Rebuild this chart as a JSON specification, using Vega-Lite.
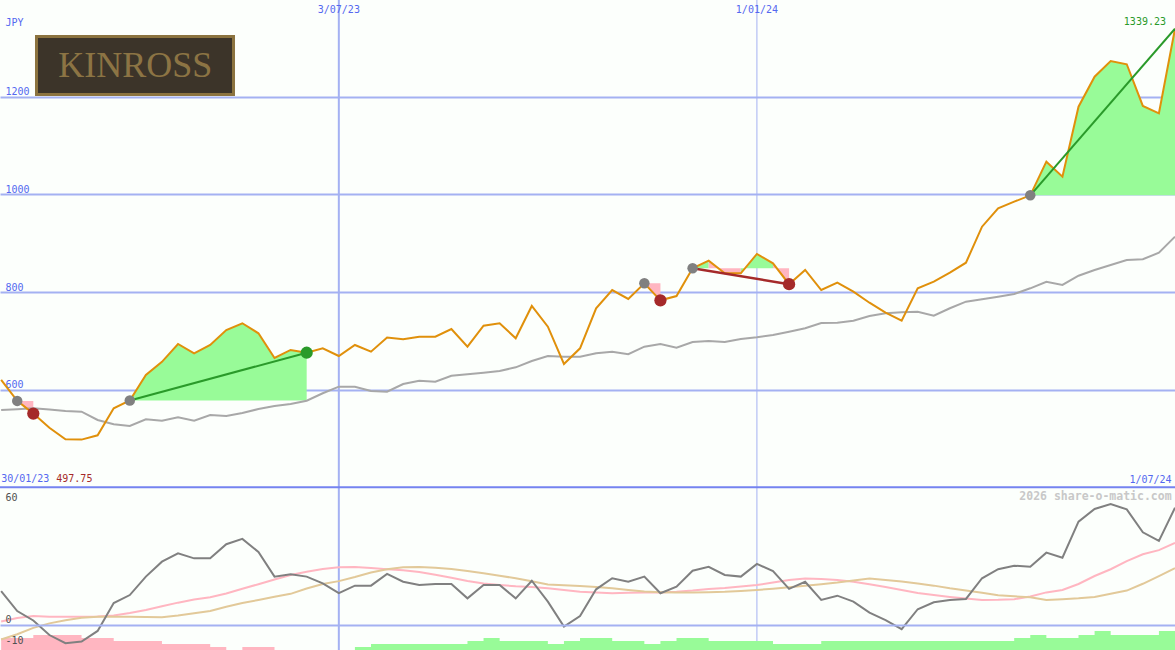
{
  "$schema": "https://vega.github.io/schema/vega-lite/v6.json",
  "width": 1175,
  "height": 650,
  "autosize": {"type": "none"},
  "padding": 0,
  "background": "#fcfffc",
  "config": {"view": {"stroke": null}, "text": {"font": "DejaVu Sans Mono", "fontSize": 10}},
  "datasets": {
    "w": [
      {"date": "2023-02-06T00:00:00", "price": 620, "ma": 558.4, "osc": 16.5, "fast": 1.7, "slow": -7.1, "neg": 1.2, "pos": 0},
      {"date": "2023-02-13T00:00:00", "price": 577, "ma": 560, "osc": 6.8, "fast": 3.4, "slow": -4.5, "neg": 1.2, "pos": 0},
      {"date": "2023-02-20T00:00:00", "price": 551, "ma": 561.9, "osc": 2.2, "fast": 4.4, "slow": -1.4, "neg": 1.5, "pos": 0},
      {"date": "2023-02-27T00:00:00", "price": 522, "ma": 559.4, "osc": -4.9, "fast": 4, "slow": 0.8, "neg": 1.5, "pos": 0},
      {"date": "2023-03-06T00:00:00", "price": 498.5, "ma": 556.3, "osc": -8.9, "fast": 4, "slow": 2.3, "neg": 1.5, "pos": 0},
      {"date": "2023-03-13T00:00:00", "price": 497.75, "ma": 554.9, "osc": -8.1, "fast": 4, "slow": 3.5, "neg": 1.2, "pos": 0},
      {"date": "2023-03-20T00:00:00", "price": 506.6, "ma": 537.9, "osc": -2.9, "fast": 4.2, "slow": 4, "neg": 1.2, "pos": 0},
      {"date": "2023-03-27T00:00:00", "price": 561.8, "ma": 529.1, "osc": 10.7, "fast": 4.6, "slow": 4, "neg": 0.9, "pos": 0},
      {"date": "2023-04-03T00:00:00", "price": 578, "ma": 525.6, "osc": 14.6, "fast": 5.8, "slow": 4, "neg": 0.9, "pos": 0},
      {"date": "2023-04-10T00:00:00", "price": 630, "ma": 539.3, "osc": 23.6, "fast": 7.3, "slow": 3.9, "neg": 0.9, "pos": 0},
      {"date": "2023-04-17T00:00:00", "price": 657, "ma": 536.5, "osc": 30.9, "fast": 9.1, "slow": 3.8, "neg": 0.6, "pos": 0},
      {"date": "2023-04-24T00:00:00", "price": 693.6, "ma": 543.4, "osc": 35, "fast": 10.9, "slow": 4.6, "neg": 0.6, "pos": 0},
      {"date": "2023-05-01T00:00:00", "price": 674.5, "ma": 536.5, "osc": 32.5, "fast": 12.4, "slow": 5.7, "neg": 0.6, "pos": 0},
      {"date": "2023-05-08T00:00:00", "price": 691.5, "ma": 548.1, "osc": 32.5, "fast": 13.5, "slow": 6.8, "neg": 0.3, "pos": 0},
      {"date": "2023-05-15T00:00:00", "price": 722.2, "ma": 546.1, "osc": 39.4, "fast": 15.4, "slow": 8.9, "neg": 0, "pos": 0},
      {"date": "2023-05-22T00:00:00", "price": 736, "ma": 552.2, "osc": 42, "fast": 17.7, "slow": 10.7, "neg": 0.3, "pos": 0},
      {"date": "2023-05-29T00:00:00", "price": 715.5, "ma": 560.4, "osc": 35.6, "fast": 19.9, "slow": 12.2, "neg": 0.3, "pos": 0},
      {"date": "2023-06-05T00:00:00", "price": 665, "ma": 566.6, "osc": 23.6, "fast": 22.2, "slow": 13.8, "neg": 0, "pos": 0},
      {"date": "2023-06-12T00:00:00", "price": 681.3, "ma": 570.7, "osc": 24.7, "fast": 24.4, "slow": 15.2, "neg": 0, "pos": 0},
      {"date": "2023-06-19T00:00:00", "price": 675.7, "ma": 577.4, "osc": 23.6, "fast": 26, "slow": 17.8, "neg": 0, "pos": 0},
      {"date": "2023-06-26T00:00:00", "price": 684.7, "ma": 592.6, "osc": 20.3, "fast": 27.3, "slow": 20, "neg": 0, "pos": 0},
      {"date": "2023-07-03T00:00:00", "price": 669, "ma": 606.1, "osc": 15.5, "fast": 28.2, "slow": 21.4, "neg": 0, "pos": 0},
      {"date": "2023-07-10T00:00:00", "price": 691.5, "ma": 606.1, "osc": 19.2, "fast": 28.3, "slow": 23.4, "neg": 0, "pos": 0.3},
      {"date": "2023-07-17T00:00:00", "price": 677.8, "ma": 597.3, "osc": 19.2, "fast": 27.8, "slow": 25.6, "neg": 0, "pos": 0.6},
      {"date": "2023-07-24T00:00:00", "price": 707, "ma": 595.9, "osc": 24.9, "fast": 27.2, "slow": 27.2, "neg": 0, "pos": 0.6},
      {"date": "2023-07-31T00:00:00", "price": 703.2, "ma": 611.6, "osc": 21.1, "fast": 26.7, "slow": 28.2, "neg": 0, "pos": 0.6},
      {"date": "2023-08-07T00:00:00", "price": 708.5, "ma": 618.4, "osc": 19.5, "fast": 25.9, "slow": 28.3, "neg": 0, "pos": 0.6},
      {"date": "2023-08-14T00:00:00", "price": 708.5, "ma": 616.4, "osc": 20, "fast": 24.5, "slow": 27.9, "neg": 0, "pos": 0.6},
      {"date": "2023-08-21T00:00:00", "price": 724.3, "ma": 628.6, "osc": 20, "fast": 23, "slow": 27.3, "neg": 0, "pos": 0.6},
      {"date": "2023-08-28T00:00:00", "price": 688, "ma": 631.5, "osc": 13, "fast": 21.5, "slow": 26.3, "neg": 0, "pos": 0.9},
      {"date": "2023-09-04T00:00:00", "price": 731, "ma": 634.8, "osc": 19.5, "fast": 20.2, "slow": 25.2, "neg": 0, "pos": 1.2},
      {"date": "2023-09-11T00:00:00", "price": 735.9, "ma": 638.3, "osc": 19.5, "fast": 19.5, "slow": 24, "neg": 0, "pos": 0.9},
      {"date": "2023-09-18T00:00:00", "price": 705.2, "ma": 645.8, "osc": 13, "fast": 18.9, "slow": 22.8, "neg": 0, "pos": 0.9},
      {"date": "2023-09-25T00:00:00", "price": 771.4, "ma": 658.7, "osc": 21.6, "fast": 18.5, "slow": 21.3, "neg": 0, "pos": 0.9},
      {"date": "2023-10-02T00:00:00", "price": 729, "ma": 669, "osc": 11.4, "fast": 17.9, "slow": 19.8, "neg": 0, "pos": 0.6},
      {"date": "2023-10-09T00:00:00", "price": 652.6, "ma": 667.5, "osc": -0.8, "fast": 17.1, "slow": 19.4, "neg": 0, "pos": 0.9},
      {"date": "2023-10-16T00:00:00", "price": 684.7, "ma": 667.5, "osc": 4.4, "fast": 16.2, "slow": 19, "neg": 0, "pos": 1.2},
      {"date": "2023-10-23T00:00:00", "price": 766.6, "ma": 674.5, "osc": 17.4, "fast": 15.9, "slow": 18.5, "neg": 0, "pos": 1.2},
      {"date": "2023-10-30T00:00:00", "price": 804.1, "ma": 677.8, "osc": 22.8, "fast": 15.5, "slow": 17.9, "neg": 0, "pos": 0.9},
      {"date": "2023-11-06T00:00:00", "price": 785.7, "ma": 672.5, "osc": 21.1, "fast": 15.7, "slow": 17.1, "neg": 0, "pos": 0.9},
      {"date": "2023-11-13T00:00:00", "price": 817.8, "ma": 688, "osc": 23.6, "fast": 15.9, "slow": 16.3, "neg": 0, "pos": 0.6},
      {"date": "2023-11-20T00:00:00", "price": 783, "ma": 693.5, "osc": 15.5, "fast": 15.9, "slow": 16, "neg": 0, "pos": 0.9},
      {"date": "2023-11-27T00:00:00", "price": 791.8, "ma": 686, "osc": 18.7, "fast": 16.2, "slow": 15.8, "neg": 0, "pos": 1.2},
      {"date": "2023-12-04T00:00:00", "price": 848.5, "ma": 697.6, "osc": 26.5, "fast": 16.8, "slow": 15.9, "neg": 0, "pos": 1.2},
      {"date": "2023-12-11T00:00:00", "price": 864.1, "ma": 699.7, "osc": 28.4, "fast": 17.6, "slow": 16, "neg": 0, "pos": 0.9},
      {"date": "2023-12-18T00:00:00", "price": 838.3, "ma": 697.6, "osc": 24.4, "fast": 18, "slow": 16.2, "neg": 0, "pos": 0.9},
      {"date": "2023-12-25T00:00:00", "price": 838.3, "ma": 703.8, "osc": 23.6, "fast": 18.8, "slow": 16.6, "neg": 0, "pos": 0.9},
      {"date": "2024-01-01T00:00:00", "price": 877.9, "ma": 707.3, "osc": 29.8, "fast": 19.5, "slow": 17.1, "neg": 0, "pos": 0.9},
      {"date": "2024-01-08T00:00:00", "price": 858.8, "ma": 712, "osc": 26.3, "fast": 20.7, "slow": 17.7, "neg": 0, "pos": 0.6},
      {"date": "2024-01-15T00:00:00", "price": 816, "ma": 718.7, "osc": 17.6, "fast": 22, "slow": 18.4, "neg": 0, "pos": 0.6},
      {"date": "2024-01-22T00:00:00", "price": 845.1, "ma": 725.7, "osc": 21.1, "fast": 22.7, "slow": 19.1, "neg": 0, "pos": 0.6},
      {"date": "2024-01-29T00:00:00", "price": 804.1, "ma": 736.5, "osc": 12.2, "fast": 22.4, "slow": 19.9, "neg": 0, "pos": 0.9},
      {"date": "2024-02-05T00:00:00", "price": 819.1, "ma": 737.2, "osc": 14.3, "fast": 22, "slow": 20.7, "neg": 0, "pos": 0.9},
      {"date": "2024-02-12T00:00:00", "price": 800.7, "ma": 741.3, "osc": 11.4, "fast": 21.1, "slow": 21.7, "neg": 0, "pos": 0.9},
      {"date": "2024-02-19T00:00:00", "price": 778.1, "ma": 750.9, "osc": 6, "fast": 19.9, "slow": 22.7, "neg": 0, "pos": 0.9},
      {"date": "2024-02-26T00:00:00", "price": 757.7, "ma": 756.4, "osc": 2.4, "fast": 18.5, "slow": 22, "neg": 0, "pos": 0.9},
      {"date": "2024-03-04T00:00:00", "price": 741.3, "ma": 758.5, "osc": -2, "fast": 17.1, "slow": 21.2, "neg": 0, "pos": 0.9},
      {"date": "2024-03-11T00:00:00", "price": 807.6, "ma": 759.7, "osc": 7.7, "fast": 15.6, "slow": 20.2, "neg": 0, "pos": 0.9},
      {"date": "2024-03-18T00:00:00", "price": 821.1, "ma": 751.5, "osc": 11.1, "fast": 14.6, "slow": 19.2, "neg": 0, "pos": 0.9},
      {"date": "2024-03-25T00:00:00", "price": 839.6, "ma": 766.7, "osc": 12.2, "fast": 13.7, "slow": 17.9, "neg": 0, "pos": 0.9},
      {"date": "2024-04-01T00:00:00", "price": 860, "ma": 780.2, "osc": 12.7, "fast": 12.9, "slow": 16.8, "neg": 0, "pos": 0.9},
      {"date": "2024-04-08T00:00:00", "price": 933.8, "ma": 785.1, "osc": 22.8, "fast": 12.2, "slow": 15.7, "neg": 0, "pos": 0.9},
      {"date": "2024-04-15T00:00:00", "price": 971.5, "ma": 790.4, "osc": 27.2, "fast": 12.3, "slow": 14.5, "neg": 0, "pos": 0.9},
      {"date": "2024-04-22T00:00:00", "price": 985, "ma": 795.9, "osc": 28.9, "fast": 12.6, "slow": 14, "neg": 0, "pos": 1.2},
      {"date": "2024-04-29T00:00:00", "price": 998, "ma": 807.6, "osc": 28.4, "fast": 13.9, "slow": 13.5, "neg": 0, "pos": 1.5},
      {"date": "2024-05-06T00:00:00", "price": 1066.9, "ma": 821.1, "osc": 35.3, "fast": 15.9, "slow": 12.2, "neg": 0, "pos": 1.2},
      {"date": "2024-05-13T00:00:00", "price": 1036.2, "ma": 814.4, "osc": 32.8, "fast": 17.1, "slow": 12.6, "neg": 0, "pos": 1.2},
      {"date": "2024-05-20T00:00:00", "price": 1179.5, "ma": 833.4, "osc": 50.4, "fast": 20, "slow": 13, "neg": 0, "pos": 1.5},
      {"date": "2024-05-27T00:00:00", "price": 1241, "ma": 845.1, "osc": 56.6, "fast": 23.9, "slow": 13.7, "neg": 0, "pos": 1.9},
      {"date": "2024-06-03T00:00:00", "price": 1273, "ma": 855.3, "osc": 59, "fast": 27.2, "slow": 15.2, "neg": 0, "pos": 1.5},
      {"date": "2024-06-10T00:00:00", "price": 1266.4, "ma": 865.6, "osc": 56.4, "fast": 31.2, "slow": 16.8, "neg": 0, "pos": 1.5},
      {"date": "2024-06-17T00:00:00", "price": 1181, "ma": 867, "osc": 45.2, "fast": 34.5, "slow": 20.1, "neg": 0, "pos": 1.5},
      {"date": "2024-06-24T00:00:00", "price": 1166, "ma": 880.5, "osc": 41, "fast": 36.5, "slow": 23.8, "neg": 0, "pos": 1.9},
      {"date": "2024-07-01T00:00:00", "price": 1339.23, "ma": 913.3, "osc": 57.2, "fast": 40.1, "slow": 27.7, "neg": 0, "pos": 1.9}
    ],
    "marks": [
      {"date": "2023-07-03T00:00:00"},
      {"date": "2024-01-01T00:00:00"}
    ],
    "fill": [
      {"g": 1, "kind": "loss", "date": "2023-02-13T00:00:00", "price": 577, "entry": 577},
      {"g": 1, "kind": "loss", "date": "2023-02-20T00:00:00", "price": 551, "entry": 577},
      {"g": 2, "kind": "gain", "date": "2023-04-03T00:00:00", "price": 578, "entry": 578},
      {"g": 2, "kind": "gain", "date": "2023-04-10T00:00:00", "price": 630, "entry": 578},
      {"g": 2, "kind": "gain", "date": "2023-04-17T00:00:00", "price": 657, "entry": 578},
      {"g": 2, "kind": "gain", "date": "2023-04-24T00:00:00", "price": 693.6, "entry": 578},
      {"g": 2, "kind": "gain", "date": "2023-05-01T00:00:00", "price": 674.5, "entry": 578},
      {"g": 2, "kind": "gain", "date": "2023-05-08T00:00:00", "price": 691.5, "entry": 578},
      {"g": 2, "kind": "gain", "date": "2023-05-15T00:00:00", "price": 722.2, "entry": 578},
      {"g": 2, "kind": "gain", "date": "2023-05-22T00:00:00", "price": 736, "entry": 578},
      {"g": 2, "kind": "gain", "date": "2023-05-29T00:00:00", "price": 715.5, "entry": 578},
      {"g": 2, "kind": "gain", "date": "2023-06-05T00:00:00", "price": 665, "entry": 578},
      {"g": 2, "kind": "gain", "date": "2023-06-12T00:00:00", "price": 681.3, "entry": 578},
      {"g": 2, "kind": "gain", "date": "2023-06-19T00:00:00", "price": 675.7, "entry": 578},
      {"g": 3, "kind": "loss", "date": "2023-11-13T00:00:00", "price": 817.8, "entry": 817.8},
      {"g": 3, "kind": "loss", "date": "2023-11-20T00:00:00", "price": 783, "entry": 817.8},
      {"g": 4, "kind": "gain", "date": "2023-12-04T00:00:00", "price": 848.5, "entry": 848.5},
      {"g": 4, "kind": "gain", "date": "2023-12-11T00:00:00", "price": 864.1, "entry": 848.5},
      {"g": 5, "kind": "loss", "date": "2023-12-11T00:00:00", "price": 864.1, "entry": 848.5},
      {"g": 5, "kind": "loss", "date": "2023-12-18T00:00:00", "price": 838.3, "entry": 848.5},
      {"g": 5, "kind": "loss", "date": "2023-12-25T00:00:00", "price": 838.3, "entry": 848.5},
      {"g": 6, "kind": "gain", "date": "2023-12-25T00:00:00", "price": 838.3, "entry": 848.5},
      {"g": 6, "kind": "gain", "date": "2024-01-01T00:00:00", "price": 877.9, "entry": 848.5},
      {"g": 6, "kind": "gain", "date": "2024-01-08T00:00:00", "price": 858.8, "entry": 848.5},
      {"g": 7, "kind": "loss", "date": "2024-01-08T00:00:00", "price": 858.8, "entry": 848.5},
      {"g": 7, "kind": "loss", "date": "2024-01-15T00:00:00", "price": 816, "entry": 848.5},
      {"g": 8, "kind": "gain", "date": "2024-04-29T00:00:00", "price": 998, "entry": 998},
      {"g": 8, "kind": "gain", "date": "2024-05-06T00:00:00", "price": 1066.9, "entry": 998},
      {"g": 8, "kind": "gain", "date": "2024-05-13T00:00:00", "price": 1036.2, "entry": 998},
      {"g": 8, "kind": "gain", "date": "2024-05-20T00:00:00", "price": 1179.5, "entry": 998},
      {"g": 8, "kind": "gain", "date": "2024-05-27T00:00:00", "price": 1241, "entry": 998},
      {"g": 8, "kind": "gain", "date": "2024-06-03T00:00:00", "price": 1273, "entry": 998},
      {"g": 8, "kind": "gain", "date": "2024-06-10T00:00:00", "price": 1266.4, "entry": 998},
      {"g": 8, "kind": "gain", "date": "2024-06-17T00:00:00", "price": 1181, "entry": 998},
      {"g": 8, "kind": "gain", "date": "2024-06-24T00:00:00", "price": 1166, "entry": 998},
      {"g": 8, "kind": "gain", "date": "2024-07-01T00:00:00", "price": 1339.23, "entry": 998}
    ],
    "trend": [
      {"t": 2, "kind": "gain", "date": "2023-04-03T00:00:00", "price": 578},
      {"t": 2, "kind": "gain", "date": "2023-06-19T00:00:00", "price": 675.7},
      {"t": 4, "kind": "loss", "date": "2023-12-04T00:00:00", "price": 848.5},
      {"t": 4, "kind": "loss", "date": "2024-01-15T00:00:00", "price": 816},
      {"t": 5, "kind": "gain", "date": "2024-04-29T00:00:00", "price": 998},
      {"t": 5, "kind": "gain", "date": "2024-07-01T00:00:00", "price": 1339.23}
    ],
    "sig": [
      {"kind": "entry", "date": "2023-02-13T00:00:00", "price": 577},
      {"kind": "entry", "date": "2023-04-03T00:00:00", "price": 578},
      {"kind": "entry", "date": "2023-11-13T00:00:00", "price": 817.8},
      {"kind": "entry", "date": "2023-12-04T00:00:00", "price": 848.5},
      {"kind": "entry", "date": "2024-04-29T00:00:00", "price": 998},
      {"kind": "loss", "date": "2023-02-20T00:00:00", "price": 551},
      {"kind": "loss", "date": "2023-11-20T00:00:00", "price": 783},
      {"kind": "loss", "date": "2024-01-15T00:00:00", "price": 816},
      {"kind": "gain", "date": "2023-06-19T00:00:00", "price": 675.7}
    ]
  },
  "resolve": {"scale": {"y": "independent"}},
  "layer": [
    {
      "data": {"name": "marks"},
      "transform": [{"filter": "year(datum.date) === 2023"}],
      "mark": {"type": "rule", "color": "#a4b1f2", "strokeWidth": 2},
      "encoding": {
        "x": {"field": "date", "type": "temporal", "scale": {"domain": [{"year": 2023, "month": 2, "date": 5, "hours": 12}, {"year": 2024, "month": 7, "date": 1}]}, "axis": null}
      }
    },
    {
      "data": {"name": "marks"},
      "transform": [{"filter": "year(datum.date) === 2024"}],
      "mark": {"type": "rule", "color": "#a4b1f2", "strokeWidth": 1},
      "encoding": {
        "x": {"field": "date", "type": "temporal", "scale": {"domain": [{"year": 2023, "month": 2, "date": 5, "hours": 12}, {"year": 2024, "month": 7, "date": 1}]}, "axis": null}
      }
    },
    {
      "data": {"name": "marks"},
      "mark": {"type": "text", "align": "center", "baseline": "alphabetic", "color": "#5468f0"},
      "encoding": {
        "x": {"field": "date", "type": "temporal", "scale": {"domain": [{"year": 2023, "month": 2, "date": 5, "hours": 12}, {"year": 2024, "month": 7, "date": 1}]}, "axis": null},
        "y": {"datum": 1370.8, "type": "quantitative", "scale": {"domain": [66.9, 1398]}, "axis": null},
        "text": {"field": "date", "type": "temporal", "format": "%-d/%m/%y"}
      }
    },
    {
      "data": {"name": "w"},
      "mark": {"type": "area", "interpolate": "step-after", "color": "#ffb6c1"},
      "encoding": {
        "x": {"field": "date", "type": "temporal", "scale": {"domain": [{"year": 2023, "month": 2, "date": 5, "hours": 12}, {"year": 2024, "month": 7, "date": 1}]}, "axis": null},
        "y": {"field": "neg", "type": "quantitative", "stack": null, "scale": {"domain": [0, 65]}, "axis": null}
      }
    },
    {
      "data": {"name": "w"},
      "mark": {"type": "area", "interpolate": "step-after", "color": "#98fb98"},
      "encoding": {
        "x": {"field": "date", "type": "temporal", "scale": {"domain": [{"year": 2023, "month": 2, "date": 5, "hours": 12}, {"year": 2024, "month": 7, "date": 1}]}, "axis": null},
        "y": {"field": "pos", "type": "quantitative", "stack": null, "scale": {"domain": [0, 65]}, "axis": null}
      }
    },
    {
      "data": {"values": [{}]},
      "mark": {"type": "rule", "color": "#7583f0", "strokeWidth": 2},
      "encoding": {
        "y": {"datum": 400, "type": "quantitative", "scale": {"domain": [66.9, 1398]}, "axis": null}
      }
    },
    {
      "data": {"name": "fill"},
      "transform": [{"filter": "datum.kind === 'gain'"}],
      "mark": {"type": "area", "color": "#98fb98"},
      "encoding": {
        "x": {"field": "date", "type": "temporal", "scale": {"domain": [{"year": 2023, "month": 2, "date": 5, "hours": 12}, {"year": 2024, "month": 7, "date": 1}]}, "axis": null},
        "y": {"field": "price", "type": "quantitative", "scale": {"domain": [66.9, 1398]}, "axis": null},
        "y2": {"field": "entry"},
        "detail": {"field": "g"}
      }
    },
    {
      "data": {"name": "fill"},
      "transform": [{"filter": "datum.kind === 'loss'"}],
      "mark": {"type": "area", "color": "#ffb6c1"},
      "encoding": {
        "x": {"field": "date", "type": "temporal", "scale": {"domain": [{"year": 2023, "month": 2, "date": 5, "hours": 12}, {"year": 2024, "month": 7, "date": 1}]}, "axis": null},
        "y": {"field": "price", "type": "quantitative", "scale": {"domain": [66.9, 1398]}, "axis": null},
        "y2": {"field": "entry"},
        "detail": {"field": "g"}
      }
    },
    {
      "data": {"name": "w"},
      "mark": {"type": "line", "color": "#a8a8a8", "strokeWidth": 2},
      "encoding": {
        "x": {"field": "date", "type": "temporal", "scale": {"domain": [{"year": 2023, "month": 2, "date": 5, "hours": 12}, {"year": 2024, "month": 7, "date": 1}]}, "axis": null},
        "y": {"field": "ma", "type": "quantitative", "scale": {"domain": [66.9, 1398]},
          "axis": {"orient": "left", "values": [600, 800, 1000, 1200], "format": "d", "grid": true, "gridColor": "#a4b1f2", "gridWidth": 2, "domain": false, "ticks": false, "tickSize": 0,
            "labelAlign": "left", "labelBaseline": "alphabetic", "labelPadding": -5, "labelOffset": -2, "labelColor": "#5468f0", "labelFont": "DejaVu Sans Mono", "labelFontSize": 10, "labelOverlap": false, "labelFlush": false,
            "title": "JPY", "titleAngle": 0, "titleAlign": "left", "titleBaseline": "alphabetic", "titleX": 5, "titleY": 25, "titleColor": "#5468f0", "titleFont": "DejaVu Sans Mono", "titleFontSize": 10, "titleFontWeight": "normal"}}
      }
    },
    {
      "data": {"name": "w"},
      "mark": {"type": "line", "color": "#ffb6c1", "strokeWidth": 2},
      "encoding": {
        "x": {"field": "date", "type": "temporal", "scale": {"domain": [{"year": 2023, "month": 2, "date": 5, "hours": 12}, {"year": 2024, "month": 7, "date": 1}]}, "axis": null},
        "y": {"field": "fast", "type": "quantitative", "scale": {"domain": [-12.2, 304.9]}, "axis": null}
      }
    },
    {
      "data": {"name": "w"},
      "mark": {"type": "line", "color": "#e2c999", "strokeWidth": 2},
      "encoding": {
        "x": {"field": "date", "type": "temporal", "scale": {"domain": [{"year": 2023, "month": 2, "date": 5, "hours": 12}, {"year": 2024, "month": 7, "date": 1}]}, "axis": null},
        "y": {"field": "slow", "type": "quantitative", "scale": {"domain": [-12.2, 304.9]}, "axis": null}
      }
    },
    {
      "data": {"name": "w"},
      "mark": {"type": "line", "color": "#808080", "strokeWidth": 2},
      "encoding": {
        "x": {"field": "date", "type": "temporal", "scale": {"domain": [{"year": 2023, "month": 2, "date": 5, "hours": 12}, {"year": 2024, "month": 7, "date": 1}]}, "axis": null},
        "y": {"field": "osc", "type": "quantitative", "scale": {"domain": [-12.2, 304.9]},
          "axis": {"orient": "left", "values": [-10, 0, 60], "grid": true, "gridColor": {"condition": {"test": "datum.value === 0", "value": "#a4b1f2"}, "value": "rgba(0,0,0,0)"}, "gridWidth": 2, "domain": false, "ticks": false, "tickSize": 0,
            "labelAlign": "left", "labelBaseline": "alphabetic", "labelPadding": -5, "labelOffset": -2, "labelColor": "#505050", "labelFont": "DejaVu Sans Mono", "labelFontSize": 10, "labelOverlap": false, "labelFlush": false,
            "labelExpr": "toString(datum.value)", "title": null, "zindex": 1}}
      }
    },
    {
      "data": {"name": "w"},
      "mark": {"type": "line", "color": "#e0900b", "strokeWidth": 2},
      "encoding": {
        "x": {"field": "date", "type": "temporal", "scale": {"domain": [{"year": 2023, "month": 2, "date": 5, "hours": 12}, {"year": 2024, "month": 7, "date": 1}]}, "axis": null},
        "y": {"field": "price", "type": "quantitative", "scale": {"domain": [66.9, 1398]}, "axis": null}
      }
    },
    {
      "data": {"name": "trend"},
      "transform": [{"filter": "datum.kind === 'gain'"}],
      "mark": {"type": "line", "color": "#2a9a2a", "strokeWidth": 2},
      "encoding": {
        "x": {"field": "date", "type": "temporal", "scale": {"domain": [{"year": 2023, "month": 2, "date": 5, "hours": 12}, {"year": 2024, "month": 7, "date": 1}]}, "axis": null},
        "y": {"field": "price", "type": "quantitative", "scale": {"domain": [66.9, 1398]}, "axis": null},
        "detail": {"field": "t"}
      }
    },
    {
      "data": {"name": "trend"},
      "transform": [{"filter": "datum.kind === 'loss'"}],
      "mark": {"type": "line", "color": "#a52a2a", "strokeWidth": 2.5},
      "encoding": {
        "x": {"field": "date", "type": "temporal", "scale": {"domain": [{"year": 2023, "month": 2, "date": 5, "hours": 12}, {"year": 2024, "month": 7, "date": 1}]}, "axis": null},
        "y": {"field": "price", "type": "quantitative", "scale": {"domain": [66.9, 1398]}, "axis": null},
        "detail": {"field": "t"}
      }
    },
    {
      "data": {"name": "sig"},
      "transform": [{"filter": "datum.kind === 'entry'"}],
      "mark": {"type": "circle", "color": "#808080", "size": 110, "opacity": 1},
      "encoding": {
        "x": {"field": "date", "type": "temporal", "scale": {"domain": [{"year": 2023, "month": 2, "date": 5, "hours": 12}, {"year": 2024, "month": 7, "date": 1}]}, "axis": null},
        "y": {"field": "price", "type": "quantitative", "scale": {"domain": [66.9, 1398]}, "axis": null}
      }
    },
    {
      "data": {"name": "sig"},
      "transform": [{"filter": "datum.kind === 'loss'"}],
      "mark": {"type": "circle", "color": "#a52a2a", "size": 150, "opacity": 1},
      "encoding": {
        "x": {"field": "date", "type": "temporal", "scale": {"domain": [{"year": 2023, "month": 2, "date": 5, "hours": 12}, {"year": 2024, "month": 7, "date": 1}]}, "axis": null},
        "y": {"field": "price", "type": "quantitative", "scale": {"domain": [66.9, 1398]}, "axis": null}
      }
    },
    {
      "data": {"name": "sig"},
      "transform": [{"filter": "datum.kind === 'gain'"}],
      "mark": {"type": "circle", "color": "#2a9a2a", "size": 150, "opacity": 1},
      "encoding": {
        "x": {"field": "date", "type": "temporal", "scale": {"domain": [{"year": 2023, "month": 2, "date": 5, "hours": 12}, {"year": 2024, "month": 7, "date": 1}]}, "axis": null},
        "y": {"field": "price", "type": "quantitative", "scale": {"domain": [66.9, 1398]}, "axis": null}
      }
    },
    {
      "data": {"values": [{}]},
      "mark": {"type": "text", "align": "left", "baseline": "alphabetic", "color": "#5468f0"},
      "encoding": {
        "x": {"datum": {"year": 2023, "month": 2, "date": 6}, "type": "temporal", "scale": {"domain": [{"year": 2023, "month": 2, "date": 5, "hours": 12}, {"year": 2024, "month": 7, "date": 1}]}, "axis": null},
        "y": {"datum": 410, "type": "quantitative", "scale": {"domain": [66.9, 1398]}, "axis": null},
        "text": {"value": "30/01/23"}
      }
    },
    {
      "data": {"values": [{}]},
      "mark": {"type": "text", "align": "left", "baseline": "alphabetic", "color": "#a52a2a"},
      "encoding": {
        "x": {"datum": {"year": 2023, "month": 3, "date": 2}, "type": "temporal", "scale": {"domain": [{"year": 2023, "month": 2, "date": 5, "hours": 12}, {"year": 2024, "month": 7, "date": 1}]}, "axis": null},
        "y": {"datum": 410, "type": "quantitative", "scale": {"domain": [66.9, 1398]}, "axis": null},
        "text": {"value": "497.75"}
      }
    },
    {
      "data": {"values": [{}]},
      "mark": {"type": "text", "align": "right", "baseline": "alphabetic", "color": "#5468f0"},
      "encoding": {
        "x": {"datum": {"year": 2024, "month": 6, "date": 29, "hours": 13}, "type": "temporal", "scale": {"domain": [{"year": 2023, "month": 2, "date": 5, "hours": 12}, {"year": 2024, "month": 7, "date": 1}]}, "axis": null},
        "y": {"datum": 409, "type": "quantitative", "scale": {"domain": [66.9, 1398]}, "axis": null},
        "text": {"value": "1/07/24"}
      }
    },
    {
      "data": {"values": [{}]},
      "mark": {"type": "text", "align": "right", "baseline": "alphabetic", "color": "#2a9a2a"},
      "encoding": {
        "x": {"datum": {"year": 2024, "month": 6, "date": 27, "hours": 2}, "type": "temporal", "scale": {"domain": [{"year": 2023, "month": 2, "date": 5, "hours": 12}, {"year": 2024, "month": 7, "date": 1}]}, "axis": null},
        "y": {"datum": 1346.8, "type": "quantitative", "scale": {"domain": [66.9, 1398]}, "axis": null},
        "text": {"value": "1339.23"}
      }
    },
    {
      "data": {"values": [{}]},
      "mark": {"type": "text", "align": "right", "baseline": "alphabetic", "color": "#c8c8c8", "fontWeight": "bold", "fontSize": 11.5},
      "encoding": {
        "x": {"datum": {"year": 2024, "month": 6, "date": 29, "hours": 13}, "type": "temporal", "scale": {"domain": [{"year": 2023, "month": 2, "date": 5, "hours": 12}, {"year": 2024, "month": 7, "date": 1}]}, "axis": null},
        "y": {"datum": 374, "type": "quantitative", "scale": {"domain": [66.9, 1398]}, "axis": null},
        "text": {"value": "2026 share-o-matic.com"}
      }
    },
    {
      "data": {"values": [{}]},
      "mark": {"type": "rect", "fill": "#3c3429", "stroke": "#8b733f", "strokeWidth": 3},
      "encoding": {
        "x": {"datum": {"year": 2023, "month": 2, "date": 21, "hours": 9, "minutes": 20}, "type": "temporal", "scale": {"domain": [{"year": 2023, "month": 2, "date": 5, "hours": 12}, {"year": 2024, "month": 7, "date": 1}]}, "axis": null},
        "x2": {"datum": {"year": 2023, "month": 5, "date": 18, "hours": 3, "minutes": 36}},
        "y": {"datum": 1323.3, "type": "quantitative", "scale": {"domain": [66.9, 1398]}, "axis": null},
        "y2": {"datum": 1204.5}
      }
    },
    {
      "data": {"values": [{}]},
      "mark": {"type": "text", "align": "center", "baseline": "alphabetic", "color": "#8c7444", "font": "Liberation Serif", "fontSize": 36},
      "encoding": {
        "x": {"datum": {"year": 2023, "month": 4, "date": 5, "hours": 9, "minutes": 36}, "type": "temporal", "scale": {"domain": [{"year": 2023, "month": 2, "date": 5, "hours": 12}, {"year": 2024, "month": 7, "date": 1}]}, "axis": null},
        "y": {"datum": 1239.7, "type": "quantitative", "scale": {"domain": [66.9, 1398]}, "axis": null},
        "text": {"value": "KINROSS"}
      }
    }
  ]
}
